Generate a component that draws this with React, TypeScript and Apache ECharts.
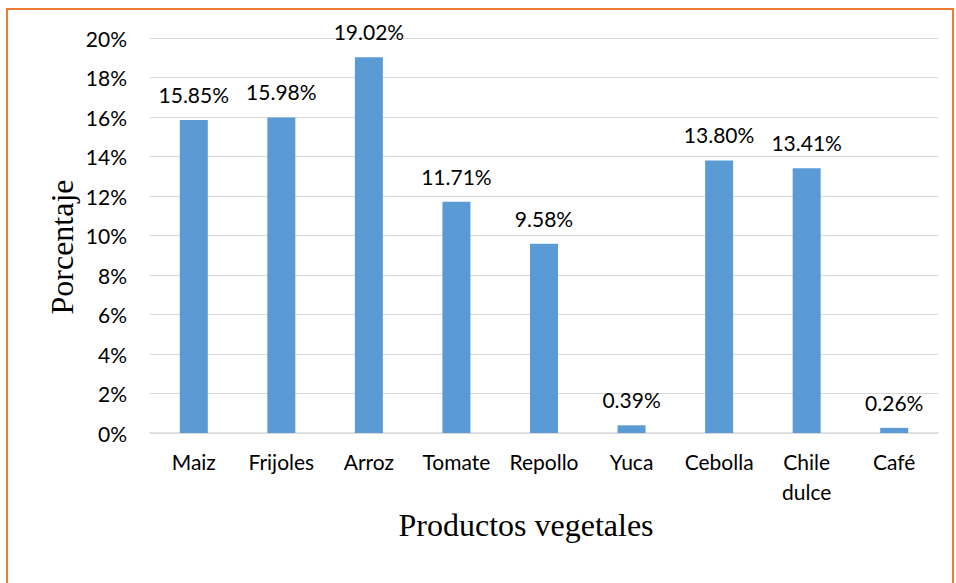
import React, { useEffect, useRef } from "react";
import * as echarts from "echarts";

const categories = ["Maiz", "Frijoles", "Arroz", "Tomate", "Repollo", "Yuca", "Cebolla", "Chile\ndulce", "Café"];
const values = [15.85, 15.98, 19.02, 11.71, 9.58, 0.39, 13.8, 13.41, 0.26];
const yTicks = { min: 0, max: 20, interval: 2 };
const xTitle = "Productos vegetales";
const yTitle = "Porcentaje";

export default function App() {
  const ref = useRef<HTMLDivElement>(null);
  useEffect(() => {
    const chart = echarts.init(ref.current!, null, { renderer: "svg" });
    chart.setOption({
      animation: false,
      backgroundColor: "#ffffff",
      grid: { left: 150, right: 18, top: 38, bottom: 150 },
      graphic: [
        {
          type: "rect",
          shape: { x: 7, y: 9, width: 946, height: 590 },
          style: { fill: "none", stroke: "#ED7D31", lineWidth: 2 },
          silent: true,
        },
        {
          type: "text",
          x: 526,
          y: 525,
          style: {
            text: xTitle,
            fontFamily: "Liberation Serif",
            fontSize: 32,
            fill: "#000",
            align: "center",
            verticalAlign: "middle",
          },
        },
        {
          type: "text",
          x: 62,
          y: 247,
          rotation: Math.PI / 2,
          style: {
            text: yTitle,
            fontFamily: "Liberation Serif",
            fontSize: 32,
            fill: "#000",
            align: "center",
            verticalAlign: "middle",
          },
        },
      ],
      xAxis: {
        type: "category",
        data: categories,
        axisLine: { lineStyle: { color: "#D9D9D9", width: 1.5 } },
        axisTick: { show: false },
        axisLabel: { fontFamily: "Lato", fontSize: 21, color: "#000", margin: 13, lineHeight: 30, interval: 0 },
      },
      yAxis: {
        type: "value",
        min: yTicks.min,
        max: yTicks.max,
        interval: yTicks.interval,
        axisLine: { show: false },
        axisTick: { show: false },
        splitLine: { lineStyle: { color: "#D9D9D9", width: 1 } },
        axisLabel: { fontFamily: "Lato", fontSize: 21, color: "#000", margin: 23, formatter: "{value}%" },
      },
      series: [
        {
          type: "bar",
          data: values,
          barWidth: 28,
          itemStyle: { color: "#5B9BD5" },
          label: {
            show: true,
            position: "top",
            distance: 15,
            fontFamily: "Lato",
            fontSize: 21,
            color: "#000",
            formatter: (p: any) => p.value.toFixed(2) + "%",
          },
        },
      ],
    });
    return () => chart.dispose();
  }, []);
  return <div ref={ref} style={{ position: "fixed", left: 0, top: 0, width: 956, height: 583 }} />;
}
